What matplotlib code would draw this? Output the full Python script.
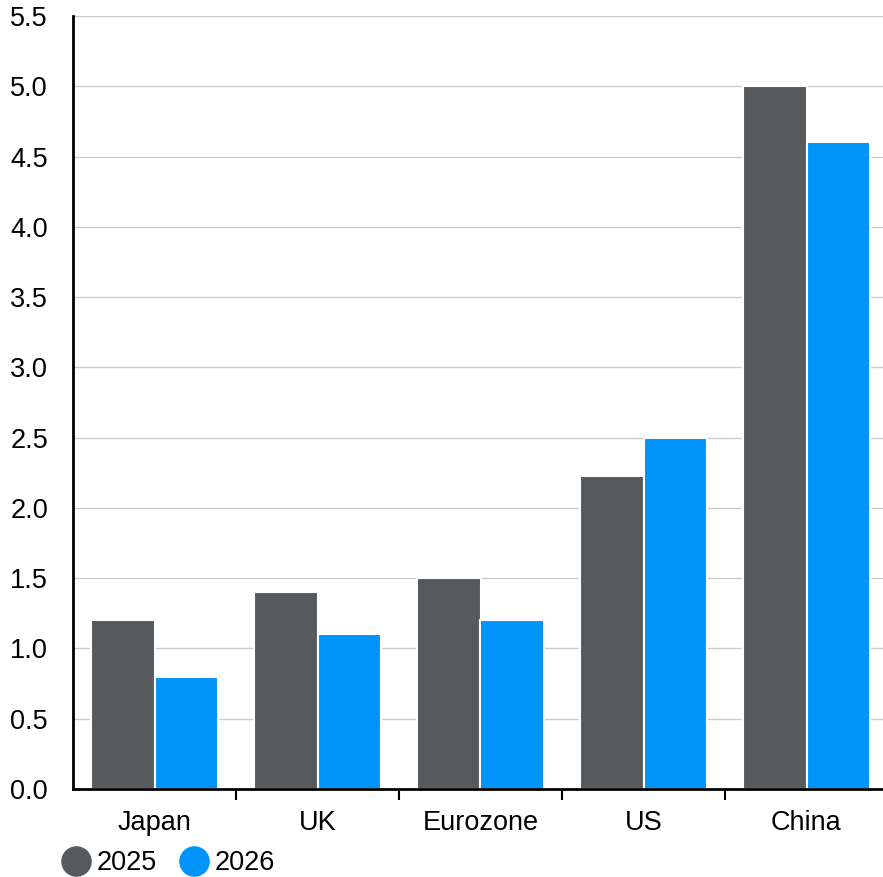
import numpy as np
import matplotlib.pyplot as plt
from matplotlib.lines import Line2D

regions = ["Japan", "UK", "Eurozone", "US", "China"]
growth_2025 = [1.2, 1.4, 1.5, 2.23, 5.0]
growth_2026 = [0.8, 1.1, 1.2, 2.5, 4.6]
series_labels = ["2025", "2026"]
yticks = [0.0, 0.5, 1.0, 1.5, 2.0, 2.5, 3.0, 3.5, 4.0, 4.5, 5.0, 5.5]

COLOR_2025 = "#575a5d"
COLOR_2026 = "#0094fb"

plt.rcParams["font.family"] = ["Liberation Sans", "DejaVu Sans"]

fig = plt.figure(figsize=(8.83, 8.77), dpi=100)
ax = fig.add_axes([73 / 883, 1 - 789 / 877, 815 / 883, (789 - 16) / 877])

x = np.arange(len(regions))
w = 0.39
ax.bar(x - w / 2, growth_2025, width=w, color=COLOR_2025, edgecolor="white", linewidth=1.5, zorder=3)
ax.bar(x + w / 2, growth_2026, width=w, color=COLOR_2026, edgecolor="white", linewidth=1.5, zorder=3)

ax.set_xlim(-0.5, len(regions) - 0.5)
ax.set_ylim(0, 5.5)
ax.set_yticks(yticks)
ax.set_yticklabels([f"{v:.1f}" for v in yticks])
ax.grid(axis="y", color="#cccccc", linewidth=1, zorder=0)

for s in ["top", "right"]:
    ax.spines[s].set_visible(False)
ax.spines["left"].set_linewidth(2)
ax.spines["bottom"].set_linewidth(2)
ax.spines["left"].set_zorder(4)
ax.spines["bottom"].set_zorder(4)

ax.set_xticks(x)
ax.set_xticklabels(regions)
ax.set_xticks(np.arange(0.5, len(regions) - 0.5, 1), minor=True)
ax.tick_params(axis="x", which="major", length=0, labelsize=19.5, pad=15)
ax.tick_params(axis="x", which="minor", length=8, width=1.5, color="black", direction="out")
ax.tick_params(axis="y", length=0, labelsize=19.5, pad=18)

handles = [
    Line2D([], [], marker="o", linestyle="", markersize=21, color=COLOR_2025),
    Line2D([], [], marker="o", linestyle="", markersize=21, color=COLOR_2026),
]
fig.legend(handles, series_labels, loc="lower left", bbox_to_anchor=(0.043, -0.027), ncol=2,
           frameon=False, fontsize=19.5, handletextpad=0.25, columnspacing=0.9, handlelength=1.0)

fig.savefig("out.png", dpi=100)
